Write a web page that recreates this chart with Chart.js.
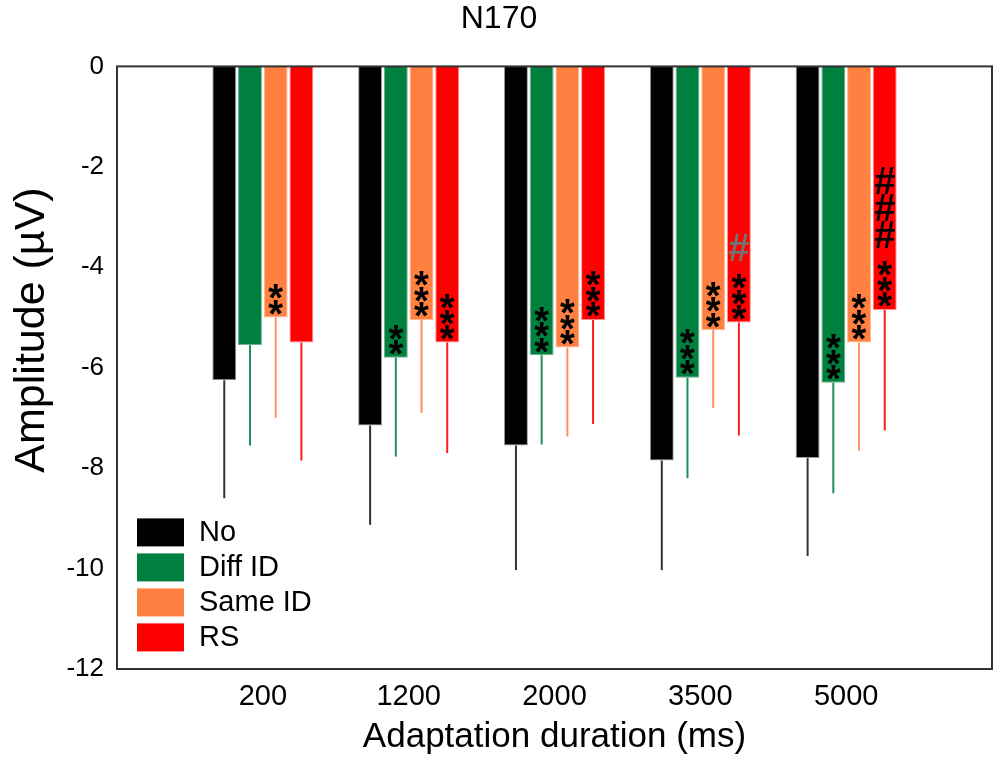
<!DOCTYPE html>
<html><head><meta charset="utf-8">
<script src="https://cdn.jsdelivr.net/npm/chart.js@4"></script>
<style>html,body{margin:0;padding:0;background:#fff}</style>
</head><body>
<canvas id="c" width="1003" height="768"></canvas>
<script>
const categories = ['200','1200','2000','3500','5000'];
const seriesLabels = ['No','Diff ID','Same ID','RS'];
const seriesColors = ['#000000','#00803F','#FF8040','#FF0000'];
const borderColors = ['#9a9a9a','#6fb090','#ffb890','#ff9090'];
const errorColors = ['#333333','#1f8f55','#ff9060','#ff1a1a'];
const meanNo   = [-6.25,-7.15,-7.55,-7.85,-7.80];
const meanDiff = [-5.55,-5.80,-5.75,-6.20,-6.30];
const meanSame = [-5.00,-5.05,-5.60,-5.25,-5.50];
const meanRS   = [-5.50,-5.50,-5.05,-5.10,-4.85];
const lowNo   = [-8.60,-9.13,-10.03,-10.03,-9.75];
const lowDiff = [-7.55,-7.77,-7.53,-8.20,-8.50];
const lowSame = [-7.00,-6.90,-7.37,-6.80,-7.65];
const lowRS   = [-7.85,-7.70,-7.12,-7.35,-7.25];
const starsNo   = ['','','','',''];
const starsDiff = ['','**','***','***','***'];
const starsSame = ['**','***','***','***','***'];
const starsRS   = ['','***','***','***','***'];
const hashRS      = ['','','','#','###'];
const hashRSColor = ['','','','#737373','#000000'];
const yTicks = [0,-2,-4,-6,-8,-10,-12];

const means = [meanNo, meanDiff, meanSame, meanRS];
const lows = [lowNo, lowDiff, lowSame, lowRS];
const stars = [starsNo, starsDiff, starsSame, starsRS];
const FONT = "'Liberation Sans', Arial, Helvetica, sans-serif";
Chart.defaults.font.family = FONT;
Chart.defaults.color = '#000';

const labels = ['', ...categories, ''];
const pad = a => [null, ...a, null];

function drawCentered(ctx, ch, x, cy) {
  const m = ctx.measureText(ch);
  const base = cy + (m.actualBoundingBoxAscent - m.actualBoundingBoxDescent) / 2;
  ctx.fillText(ch, x, base);
}

const extras = {
  id: 'extras',
  afterDatasetsDraw(chart) {
    const ctx = chart.ctx, y = chart.scales.y;
    ctx.save();
    chart.data.datasets.forEach((ds, k) => {
      const meta = chart.getDatasetMeta(k);
      meta.data.forEach((bar, i) => {
        const ci = i - 1;
        if (ci < 0 || ci >= categories.length) return;
        const yEnd = y.getPixelForValue(lows[k][ci]);
        ctx.strokeStyle = errorColors[k];
        ctx.lineWidth = 2;
        ctx.beginPath();
        ctx.moveTo(bar.x, bar.y);
        ctx.lineTo(bar.x, yEnd);
        ctx.stroke();
        ctx.textAlign = 'center';
        ctx.textBaseline = 'alphabetic';
        ctx.font = 'bold 38px ' + FONT;
        ctx.fillStyle = '#000';
        const s = stars[k][ci];
        let topStar = bar.y - 10;
        for (let j = 0; j < s.length; j++) {
          const cy = bar.y - 10 - j * 15.5;
          drawCentered(ctx, '*', bar.x, cy);
          topStar = cy;
        }
        if (k === 3 && hashRS[ci]) {
          ctx.font = 'bold 38px ' + FONT;
          ctx.fillStyle = hashRSColor[ci];
          const h = hashRS[ci];
          for (let j = 0; j < h.length; j++) {
            drawCentered(ctx, '#', bar.x, topStar - 34 - j * 27);
          }
        }
      });
    });
    ctx.restore();
  },
  afterDraw(chart) {
    const ctx = chart.ctx, a = chart.chartArea;
    ctx.save();
    ctx.strokeStyle = '#333';
    ctx.lineWidth = 2;
    ctx.strokeRect(a.left, a.top, a.right - a.left, a.bottom - a.top);
    ctx.font = '29px ' + FONT;
    ctx.textAlign = 'left';
    ctx.textBaseline = 'middle';
    seriesLabels.forEach((name, k) => {
      const top = a.top + 452 + k * 35;
      ctx.fillStyle = seriesColors[k];
      ctx.fillRect(a.left + 20, top, 47, 28);
      ctx.fillStyle = '#000';
      ctx.fillText(name, a.left + 82, top + 15);
    });
    ctx.translate(32, 330);
    ctx.rotate(-Math.PI / 2);
    ctx.textAlign = 'center';
    ctx.font = '43px ' + FONT;
    ctx.fillText('Amplitude (µV)', 0, 0);
    ctx.restore();
  }
};

new Chart(document.getElementById('c'), {
  type: 'bar',
  data: {
    labels,
    datasets: seriesLabels.map((name, k) => ({
      label: name,
      data: pad(means[k]),
      backgroundColor: seriesColors[k],
      borderColor: borderColors[k],
      borderWidth: 1,
      categoryPercentage: 0.705,
      barPercentage: 0.93
    }))
  },
  options: {
    responsive: false,
    animation: false,
    layout: { padding: { left: 0, right: 5, top: 0, bottom: 0 } },
    plugins: {
      legend: { display: false },
      tooltip: { enabled: false },
      title: {
        display: true, text: 'N170', color: '#000',
        font: { size: 32, weight: 'normal' },
        padding: { top: 0, bottom: 28 }
      }
    },
    scales: {
      x: {
        type: 'category',
        offset: false,
        grid: { display: false, drawTicks: false },
        border: { display: false },
        ticks: { font: { size: 29 }, color: '#000', padding: 11, maxRotation: 0, autoSkip: false },
        title: { display: true, text: 'Adaptation duration (ms)', color: '#000', font: { size: 35 }, padding: { top: 0, bottom: 10 } },
        afterFit: s => { s.height = 99; }
      },
      y: {
        min: -12, max: 0,
        grid: { display: false, drawTicks: false },
        border: { display: false },
        ticks: { stepSize: 2, font: { size: 26 }, color: '#000', padding: 13 },
        afterBuildTicks: s => { s.ticks = yTicks.map(v => ({ value: v })); },
        afterFit: s => { s.width = 117; }
      }
    }
  },
  plugins: [extras]
});
</script>
</body></html>
